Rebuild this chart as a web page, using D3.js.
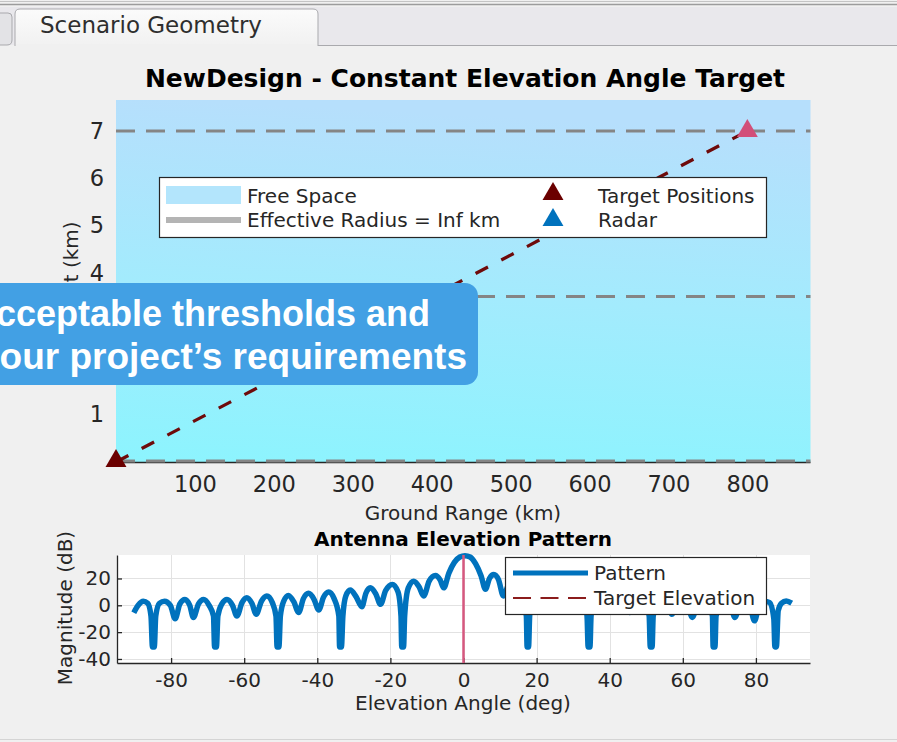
<!DOCTYPE html>
<html><head><meta charset="utf-8">
<script src="https://cdn.jsdelivr.net/npm/d3@7"></script>
<style>
body{margin:0;background:#f0f0f0;}
svg{display:block;font-family:"DejaVu Sans",sans-serif;}
</style>
</head><body>
<svg id="c" width="897" height="742"></svg>
<script>
// ---------- data ----------
const tabLabel = "Scenario Geometry";
const topTitle = "NewDesign - Constant Elevation Angle Target";
const groundRangeTicks = [100,200,300,400,500,600,700,800];
const heightTicks = [1,2,3,4,5,6,7];
const targetRange = [0, 800];
const targetHeight = [0, 7];
const referenceHeights = [0, 3.5, 7];
const topLegendLabels = ["Free Space","Effective Radius = Inf km","Target Positions","Radar"];

const bottomTitle = "Antenna Elevation Pattern";
const angleTicks = [-80,-60,-40,-20,0,20,40,60,80];
const magTicks = [-40,-20,0,20];
const targetElevation = 0;
const patternAngle = [
 -90.2,-89,-87.6,-86.4,-85.5,-85.1,-84.6,-84.2,-83.2,-81.8,-80.2,-78.9,-77.6,-76.2,-74.9,-73.9,-72.5,-71.1,-69.6,-68.4,-68.1,-67.6,-67.2,-66.1,-64.7,-63.2,-62,-60.6,-59.3,-57.9,-56.7,-55.3,-53.8,-52.3,-51.3,-51,-50.5,-50.1,-49.2,-47.9,-46.4,-45.1,-43.8,-42.4,-40.9,-39.6,-38.3,-36.9,-35.4,-34.1,-33.9,-33.4,-33.0,-32.2,-31,-29.4,-27.8,-26.7,-25.5,-24,-22.7,-21.3,-19.5,-17.9,-17.1,-16.9,-16.4,-16.1,-15.1,-13.6,-12.2,-10.9,-9.4,-7.7,-6.4,-5.4,-4,-2.5,-1,0.4,
 1.8,3.3,4.8,6,7.1,8.3,9.6,10.9,12.3,13.8,15.2,17.2,17.4,17.8,18.1,19,20.4,22,23.4,24.6,26.2,27.4,28.5,30,31.6,32.9,33.8,34.1,34.6,34.9,35.8,37.3,38.7,40,41.4,42.9,44.2,45.5,46.8,48.3,49.7,50.8,51.1,51.6,51.9,52.9,54.3,55.8,57,58.3,59.8,61.2,62.6,63.9,65.3,66.9,68.1,68.3,68.8,69.1,70.3,71.7,73.1,74.2,75.6,77,78.4,79.6,80.9,82.3,83.8,84.9,85.2,85.6,86.1,87,88.3,89.8
];
const patternMag = [
 -5.5,0,3,1.5,-8,-31,-31,-8,1.5,3,0,-10,1,4.4,0,-9,1,4.4,0,-8,-31,-31,-8,1,4.4,0,-8,2,5.7,1.5,-6.7,3,7,2,-8,-31,-31,-8,3,7.4,2.5,-5.4,5,8.9,4.5,-3.5,6,9.9,5,-8,-31,-31,-8,7,11.4,6.5,-1,9,13,8.5,0.7,11,15.6,10,-8,-31,-31,-8,13,18,14,6.9,18,22.2,19,13,24,32,36,37,
 36,31,22,12,20,23,19,7,15,18,14,-8,-31,-31,-8,11,15.6,11,0.7,8.5,13,9,-1,6.5,11.4,7,-8,-31,-31,-8,5,9.9,6,-3.5,4.5,8.9,5,-5.4,2.5,7.4,3,-8,-31,-31,-8,2,7,3,-6.7,1.5,5.7,2,-9,0,4.4,1,-8,-31,-31,-8,0,4.4,1,-9,0,4.4,0,-11.6,0,3,2,-10,-31,-31,-4,1.5,3.2,1.6
];
const bottomLegendLabels = ["Pattern","Target Elevation"];
const calloutLines = ["acceptable thresholds and","your project\u2019s requirements"];

// ---------- drawing ----------
const svg = d3.select("#c");
const defs = svg.append("defs");
const txt = "#262626";

// tab strip
svg.append("rect").attr("x",0).attr("y",0).attr("width",897).attr("height",8).attr("fill","#f0f0f0");
svg.append("line").attr("x1",0).attr("x2",897).attr("y1",1.5).attr("y2",1.5).attr("stroke","#c4c4c4");
svg.append("line").attr("x1",0).attr("x2",897).attr("y1",4.5).attr("y2",4.5).attr("stroke","#9c9c9c").attr("stroke-width",1.5);
svg.append("rect").attr("x",0).attr("y",7).attr("width",897).attr("height",38).attr("fill","#e9e8ec");
svg.append("path").attr("d","M0,13 L8,13 Q12,13 12,17 L12,40 Q12,45 7,45 L0,45").attr("fill","#e3e3e6").attr("stroke","#a9a9ad");
const tg = defs.append("linearGradient").attr("id","tabg").attr("x1",0).attr("y1",0).attr("x2",0).attr("y2",1);
tg.append("stop").attr("offset",0).attr("stop-color","#fbfbfb");
tg.append("stop").attr("offset",1).attr("stop-color","#f1f1f1");
svg.append("line").attr("x1",318).attr("x2",897).attr("y1",45.5).attr("y2",45.5).attr("stroke","#a9a9ad");
svg.append("path").attr("d","M15,46 L15,14 Q15,9 20,9 L313,9 Q318,9 318,14 L318,46").attr("fill","url(#tabg)").attr("stroke","#a9a9ad");
svg.append("rect").attr("x",16).attr("y",44).attr("width",301).attr("height",3).attr("fill","#f0f0f0");
svg.append("text").attr("x",40).attr("y",33).attr("font-size",23).attr("fill","#2e2e2e").text(tabLabel);
svg.append("line").attr("x1",0).attr("x2",897).attr("y1",739.5).attr("y2",739.5).attr("stroke","#d4d4d4");

// ---------- top chart ----------
const T = {l:116, r:810.5, t:100, b:462};
const xT = d3.scaleLinear().domain([0,880]).range([T.l,T.r]);
const yT = d3.scaleLinear().domain([0,7.655]).range([T.b,T.t]);
const bg = defs.append("linearGradient").attr("id","skyg").attr("x1",0.1).attr("y1",0).attr("x2",0.0).attr("y2",1);
bg.append("stop").attr("offset",0).attr("stop-color","#b6dffc");
bg.append("stop").attr("offset",0.5).attr("stop-color","#a3ebfd");
bg.append("stop").attr("offset",1).attr("stop-color","#8cf4fe");
svg.append("rect").attr("x",T.l).attr("y",T.t).attr("width",T.r-T.l).attr("height",T.b-T.t).attr("fill","url(#skyg)");

svg.append("text").attr("x",465).attr("y",87).attr("text-anchor","middle").attr("font-weight","bold")
  .attr("font-size",25).attr("fill","#000").text(topTitle);

// axis line
svg.append("line").attr("x1",T.l).attr("x2",T.r).attr("y1",T.b+0.5).attr("y2",T.b+0.5).attr("stroke","#262626").attr("stroke-width",1.5);
// reference height dashed lines
svg.selectAll(".refh").data(referenceHeights).enter().append("line")
  .attr("x1",T.l).attr("x2",T.r).attr("y1",d=>yT(d)-(d===0?1:0)).attr("y2",d=>yT(d)-(d===0?1:0))
  .attr("stroke","#858585").attr("stroke-width",3).attr("stroke-dasharray","19,11");

// tick labels
const xAxT = d3.axisBottom(xT).tickValues(groundRangeTicks).tickSize(0).tickPadding(14);
const gx = svg.append("g").attr("transform",`translate(0,${T.b})`).call(xAxT);
gx.select(".domain").remove();
gx.selectAll("text").attr("font-size",22.5).attr("fill",txt).attr("font-family","DejaVu Sans");
const yAxT = d3.axisLeft(yT).tickValues(heightTicks).tickSize(0).tickPadding(12);
const gy = svg.append("g").attr("transform",`translate(${T.l},0)`).call(yAxT);
gy.select(".domain").remove();
gy.selectAll("text").attr("font-size",22.5).attr("fill",txt).attr("font-family","DejaVu Sans");

svg.append("text").attr("x",463).attr("y",520).attr("text-anchor","middle").attr("font-size",20).attr("fill",txt).text("Ground Range (km)");
svg.append("text").attr("transform","translate(78,281) rotate(-90)").attr("text-anchor","middle").attr("font-size",20).attr("fill",txt).text("Height (km)");

// target path
const tpts = targetRange.map((r,i)=>[r,targetHeight[i]]);
svg.append("path").datum(tpts).attr("d",d3.line().x(d=>xT(d[0])).y(d=>yT(d[1])))
  .attr("fill","none").attr("stroke","#6e0a0a").attr("stroke-width",3.2).attr("stroke-dasharray","14,15");
const tri = d3.symbol().type(d3.symbolTriangle).size(190);
svg.append("path").attr("d",tri).attr("transform",`translate(${xT(targetRange[0])},${yT(targetHeight[0])-1})`).attr("fill","#6b0000");
svg.append("path").attr("d",tri).attr("transform",`translate(${xT(targetRange[1])},${yT(targetHeight[1])})`).attr("fill","#d24f79");

// top legend
const L = svg.append("g");
L.append("rect").attr("x",159.5).attr("y",177.5).attr("width",607).attr("height",60).attr("fill","#fff").attr("stroke","#262626").attr("stroke-width",1.2);
L.append("rect").attr("x",166).attr("y",186).attr("width",75).attr("height",18).attr("fill","#b3e5fc");
L.append("line").attr("x1",166).attr("x2",241).attr("y1",220).attr("y2",220).attr("stroke","#b4b4b4").attr("stroke-width",6);
L.append("text").attr("x",247).attr("y",203).attr("font-size",20).attr("fill",txt).text(topLegendLabels[0]);
L.append("text").attr("x",247).attr("y",227).attr("font-size",20).attr("fill",txt).text(topLegendLabels[1]);
L.append("path").attr("d",tri).attr("transform","translate(553,194)").attr("fill","#6b0000");
L.append("path").attr("d",tri).attr("transform","translate(553,220)").attr("fill","#0072bd");
L.append("text").attr("x",598).attr("y",203).attr("font-size",20).attr("fill",txt).text(topLegendLabels[2]);
L.append("text").attr("x",598).attr("y",227).attr("font-size",20).attr("fill",txt).text(topLegendLabels[3]);

// ---------- bottom chart ----------
const B = {l:117, r:810, t:555, b:663};
const xB = d3.scaleLinear().domain([-94.8,94.8]).range([B.l,B.r]);
const yB = d3.scaleLinear().domain([-43,37.5]).range([B.b,B.t]);
svg.append("rect").attr("x",B.l).attr("y",B.t).attr("width",B.r-B.l).attr("height",B.b-B.t).attr("fill","#fff");
svg.selectAll(".gxv").data(angleTicks).enter().append("line")
  .attr("x1",d=>Math.round(xB(d))+0.5).attr("x2",d=>Math.round(xB(d))+0.5).attr("y1",B.t).attr("y2",B.b).attr("stroke","#e2e2e2");
svg.selectAll(".gyh").data(magTicks).enter().append("line")
  .attr("x1",B.l).attr("x2",B.r).attr("y1",d=>Math.round(yB(d))+0.5).attr("y2",d=>Math.round(yB(d))+0.5).attr("stroke","#e2e2e2");

const gxb = svg.append("g").attr("transform",`translate(0,${B.b})`).call(d3.axisBottom(xB).tickValues(angleTicks).tickSizeInner(-5).tickSizeOuter(0).tickPadding(10));
gxb.select(".domain").attr("stroke","#262626").attr("stroke-width",1.3);
gxb.selectAll(".tick line").attr("stroke","#262626").attr("stroke-width",1.3);
gxb.selectAll("text").attr("font-size",20).attr("fill",txt).attr("font-family","DejaVu Sans").text(d=>d<0?"-"+Math.abs(d):d);
const gyb = svg.append("g").attr("transform",`translate(${B.l},0)`).call(d3.axisLeft(yB).tickValues(magTicks).tickSizeInner(-5).tickSizeOuter(0).tickPadding(6));
gyb.select(".domain").attr("stroke","#262626").attr("stroke-width",1.3);
gyb.selectAll(".tick line").attr("stroke","#262626").attr("stroke-width",1.3);
gyb.selectAll("text").attr("font-size",20).attr("fill",txt).attr("font-family","DejaVu Sans").text(d=>d<0?"-"+Math.abs(d):d);

const pts = patternAngle.map((a,i)=>[a,patternMag[i]]);
svg.append("path").datum(pts).attr("d",d3.line().x(d=>xB(d[0])).y(d=>yB(d[1])).curve(d3.curveMonotoneX))
  .attr("fill","none").attr("stroke","#0072bd").attr("stroke-width",5.5).attr("stroke-linejoin","round");
svg.append("line").attr("x1",xB(targetElevation)).attr("x2",xB(targetElevation)).attr("y1",B.t).attr("y2",B.b)
  .attr("stroke","#d6587f").attr("stroke-width",2.5);

svg.append("text").attr("x",463).attr("y",546).attr("text-anchor","middle").attr("font-weight","bold").attr("font-size",20).attr("fill","#000").text(bottomTitle);
svg.append("text").attr("x",463).attr("y",710).attr("text-anchor","middle").attr("font-size",20).attr("fill",txt).text("Elevation Angle (deg)");
svg.append("text").attr("transform","translate(72,608) rotate(-90)").attr("text-anchor","middle").attr("font-size",20).attr("fill",txt).text("Magnitude (dB)");

const BL = svg.append("g");
BL.append("rect").attr("x",505.5).attr("y",557.5).attr("width",261).attr("height",57).attr("fill","#fff").attr("stroke","#262626").attr("stroke-width",1.2);
BL.append("line").attr("x1",513).attr("x2",588).attr("y1",573).attr("y2",573).attr("stroke","#0072bd").attr("stroke-width",5);
BL.append("line").attr("x1",513).attr("x2",588).attr("y1",598).attr("y2",598).attr("stroke","#8b1c1c").attr("stroke-width",2).attr("stroke-dasharray","18,9.5");
BL.append("text").attr("x",594).attr("y",580).attr("font-size",20).attr("fill",txt).text(bottomLegendLabels[0]);
BL.append("text").attr("x",594).attr("y",605).attr("font-size",20).attr("fill",txt).text(bottomLegendLabels[1]);

// ---------- callout overlay ----------
const C = svg.append("g");
C.append("rect").attr("x",-30).attr("y",283).attr("width",508).attr("height",102).attr("rx",13).attr("fill","#42a0e4");
C.append("text").attr("x",430).attr("y",326).attr("text-anchor","end").attr("font-family","'Liberation Sans',Arial,sans-serif")
  .attr("font-weight","bold").attr("font-size",36).attr("fill","#fff").text(calloutLines[0]);
C.append("text").attr("x",467).attr("y",369).attr("text-anchor","end").attr("font-family","'Liberation Sans',Arial,sans-serif")
  .attr("font-weight","bold").attr("font-size",37).attr("fill","#fff").text(calloutLines[1]);
</script>
</body></html>
